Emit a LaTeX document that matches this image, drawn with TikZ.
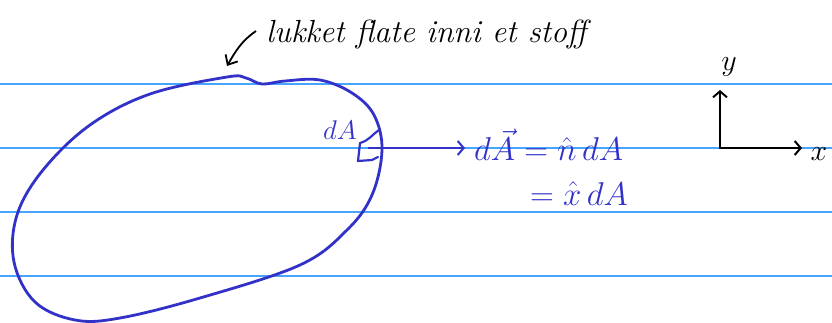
\RequirePackage{fix-cm}
\documentclass[tikz,border=0pt]{standalone}
\usepackage{amsmath}
\usetikzlibrary{arrows.meta}
\definecolor{inkblue}{RGB}{50,50,200}
\definecolor{ruleblue}{RGB}{70,165,255}
\tikzset{
  ruled/.style={ruleblue, line width=1.2pt},
  surface/.style={inkblue, line width=2.8pt, line cap=round, line join=round},
  vec/.style={inkblue, line width=2pt, -{Straight Barb[length=6pt,width=14pt,line width=2pt]}},
  axis/.style={black, line width=2.2pt, {Straight Barb[length=6pt,width=14pt,line width=2pt]}-{Straight Barb[length=6pt,width=14pt,line width=2pt]}},
  pointer/.style={black, line width=1.8pt, -{Straight Barb[length=8pt,width=14pt,line width=1.8pt]}},
  eqtext/.style={inkblue, inner sep=0pt, font=\fontsize{33}{37}\selectfont},
  note/.style={black, inner sep=0pt, font=\fontsize{32}{36}\selectfont\itshape}
}
\begin{document}
\begin{tikzpicture}[x=1pt,y=-1pt]
  \useasboundingbox (0,0) rectangle (832,323);
  \foreach \r in {84,148,212,276}
    \draw[ruled] (0,\r) -- (832,\r);
  \draw[surface] plot[smooth cycle, tension=0.6] coordinates {
    (227,77) (246,78) (262,84) (285,81) (320,80) (352,93) (374,115)
    (382,150) (372,195) (347,230) (300,265) (200,298) (120,318)
    (75,320) (35,302) (14,262) (17,215) (43,170) (90,125) (150,94)};
  \draw[surface, line width=2.2pt] (379,130) to[out=215, in=15] (360,143)
    -- (358,161) -- (372,160) -- (378,157);
  \coordinate (patch) at (368,148);
  \node[eqtext, font=\fontsize{27}{31}\selectfont] (dAlab) at (340,130) {$dA$};
  \node[eqtext, anchor=base west] (eq1) at (474,161) {$d\vec{A}=\hat{n}\,dA$};
  \node[eqtext, anchor=base west] (eq2) at (530,205) {$=\hat{x}\,dA$};
  \draw[vec] (patch) -- ([xshift=-9pt]eq1.west |- patch);
  \coordinate (O) at (720,148);
  \coordinate (xend) at (802,148);
  \coordinate (yend) at (720,90);
  \draw[axis] (yend) -- (O) -- (xend);
  \node[inner sep=0pt, font=\fontsize{30}{34}\selectfont] (xlab) at (819,154) {$x$};
  \node[inner sep=0pt, font=\fontsize{30}{34}\selectfont] (ylab) at (729,67) {$y$};
  \node[note, anchor=base west] (note) at (266,43) {lukket flate inni et stoff};
  \coordinate (tip) at (227,66);
  \draw[pointer] ([xshift=-10pt,yshift=12pt]note.base west) to[out=215, in=60] (tip);
\end{tikzpicture}
\end{document}
